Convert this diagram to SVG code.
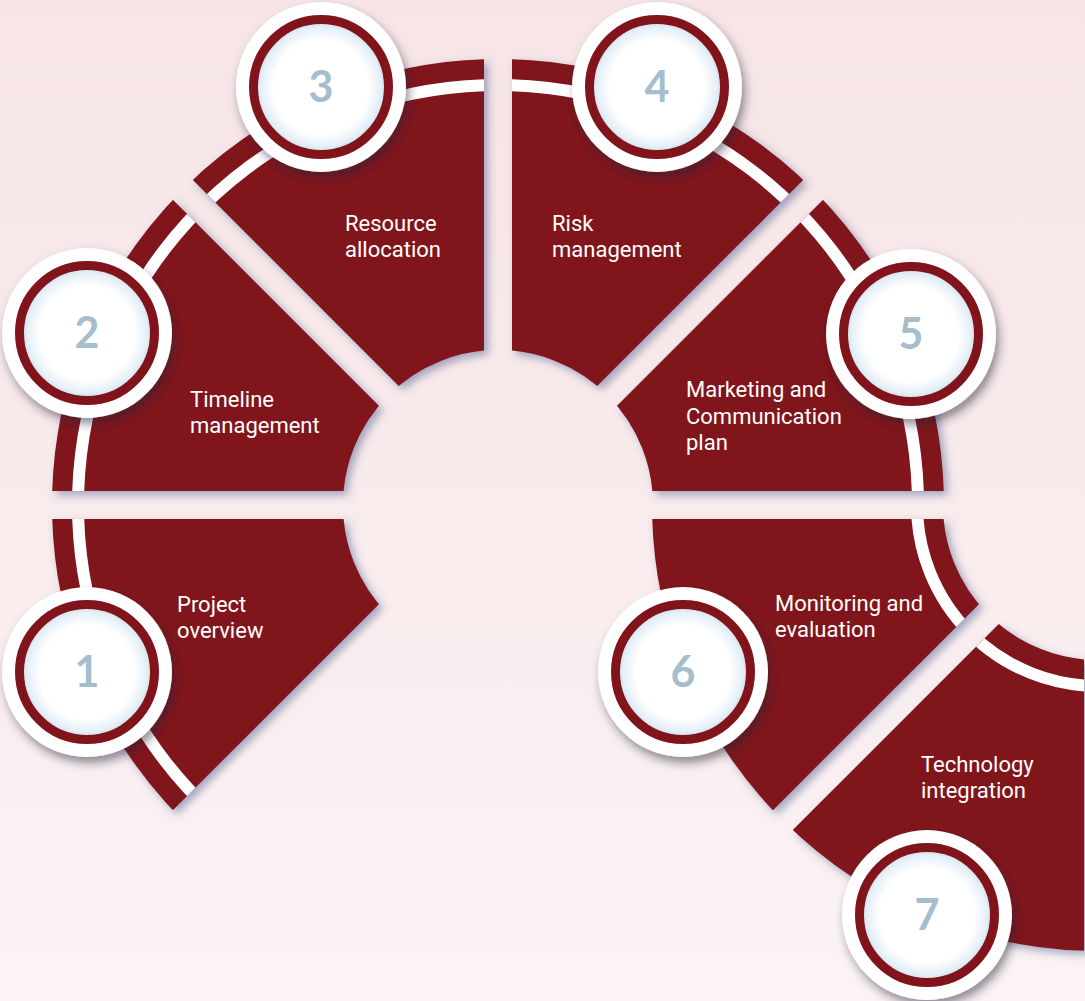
<svg xmlns="http://www.w3.org/2000/svg" width="1085" height="1001" viewBox="0 0 1085 1001">
<defs>
<linearGradient id="bg" x1="0" y1="0" x2="0" y2="1">
<stop offset="0" stop-color="#f6e4e6"/>
<stop offset="1" stop-color="#fbf3f4"/>
</linearGradient>
<radialGradient id="disc" cx="0.5" cy="0.5" r="0.5">
<stop offset="0" stop-color="#ffffff"/>
<stop offset="0.7" stop-color="#ffffff"/>
<stop offset="0.88" stop-color="#e6f0f8"/>
<stop offset="1" stop-color="#c4d8e7"/>
</radialGradient>
<filter id="secShadow" filterUnits="userSpaceOnUse" x="-100" y="-100" width="1300" height="1250">
<feDropShadow dx="4" dy="4" stdDeviation="4" flood-color="#4b5a8c" flood-opacity="0.5"/>
</filter>
<filter id="badgeShadow" x="-30%" y="-30%" width="160%" height="160%">
<feDropShadow dx="3" dy="6" stdDeviation="5" flood-color="#2b2035" flood-opacity="0.5"/>
</filter>
<clipPath id="w1"><polygon points="464.2,519 -62,519 92.1,891.1"/></clipPath>
<clipPath id="w2"><polygon points="464.2,491 -62,491 92.1,118.9"/></clipPath>
<clipPath id="w3"><polygon points="484,471.2 111.9,99.1 484,-55"/></clipPath>
<clipPath id="w4"><polygon points="512,471.2 884.1,99.1 512,-55"/></clipPath>
<clipPath id="w5"><polygon points="531.8,491 1058,491 903.9,118.9"/></clipPath>
<clipPath id="w6"><polygon points="1064.2,519 538,519 692.1,891.1"/></clipPath>
<clipPath id="w7"><polygon points="1084,538.8 711.9,910.9 1084,1065"/></clipPath>
<style>
.band{fill:none;stroke:#80141a;stroke-width:291}
.stripe{fill:none;stroke:#ffffff;stroke-width:12}
.lbl{font-family:Roboto,"Liberation Sans",sans-serif;font-size:22px;font-weight:400;fill:#ffffff}
.num{font-family:Lato,"Liberation Sans",sans-serif;font-size:43px;font-weight:700;fill:#a5bdcd;text-anchor:middle}
.outer{fill:#ffffff}
.ring{fill:url(#disc);stroke:#80141a;stroke-width:9}
</style>
</defs>
<rect x="0" y="0" width="1085" height="1001" fill="url(#bg)"/>
<g id="connectors"/>

<g id="node1">
<g filter="url(#secShadow)"><g clip-path="url(#w1)">
<circle class="band" cx="498" cy="505" r="300.5"/><circle class="stripe" cx="498" cy="505" r="420"/>
</g></g>
<text class="lbl" x="177" y="612">Project</text>
<text class="lbl" x="177" y="638">overview</text>
<g filter="url(#badgeShadow)"><circle class="outer" cx="87" cy="672" r="85"/></g>
<circle class="ring" cx="87" cy="672" r="67.5"/>
<text class="num" x="87" y="687">1</text>
</g>

<g id="node2">
<g filter="url(#secShadow)"><g clip-path="url(#w2)">
<circle class="band" cx="498" cy="505" r="300.5"/><circle class="stripe" cx="498" cy="505" r="420"/>
</g></g>
<text class="lbl" x="190" y="407">Timeline</text>
<text class="lbl" x="190" y="433">management</text>
<g filter="url(#badgeShadow)"><circle class="outer" cx="87" cy="333" r="85"/></g>
<circle class="ring" cx="87" cy="333" r="67.5"/>
<text class="num" x="87" y="348">2</text>
</g>

<g id="node3">
<g filter="url(#secShadow)"><g clip-path="url(#w3)">
<circle class="band" cx="498" cy="505" r="300.5"/><circle class="stripe" cx="498" cy="505" r="420"/>
</g></g>
<text class="lbl" x="345" y="231">Resource</text>
<text class="lbl" x="345" y="257">allocation</text>
<g filter="url(#badgeShadow)"><circle class="outer" cx="321" cy="87" r="85"/></g>
<circle class="ring" cx="321" cy="87" r="67.5"/>
<text class="num" x="321" y="102">3</text>
</g>

<g id="node4">
<g filter="url(#secShadow)"><g clip-path="url(#w4)">
<circle class="band" cx="498" cy="505" r="300.5"/><circle class="stripe" cx="498" cy="505" r="420"/>
</g></g>
<text class="lbl" x="552" y="231">Risk</text>
<text class="lbl" x="552" y="257">management</text>
<g filter="url(#badgeShadow)"><circle class="outer" cx="657" cy="87" r="85"/></g>
<circle class="ring" cx="657" cy="87" r="67.5"/>
<text class="num" x="657" y="102">4</text>
</g>

<g id="node5">
<g filter="url(#secShadow)"><g clip-path="url(#w5)">
<circle class="band" cx="498" cy="505" r="300.5"/><circle class="stripe" cx="498" cy="505" r="420"/>
</g></g>
<text class="lbl" x="686" y="397">Marketing and</text>
<text class="lbl" x="686" y="423.5">Communication</text>
<text class="lbl" x="686" y="450">plan</text>
<g filter="url(#badgeShadow)"><circle class="outer" cx="911" cy="334" r="85"/></g>
<circle class="ring" cx="911" cy="334" r="67.5"/>
<text class="num" x="911" y="349">5</text>
</g>

<g id="node6">
<g filter="url(#secShadow)"><g clip-path="url(#w6)">
<circle class="band" cx="1098" cy="505" r="300.5"/><circle class="stripe" cx="1098" cy="505" r="181"/>
</g></g>
<text class="lbl" x="775" y="611">Monitoring and</text>
<text class="lbl" x="775" y="637">evaluation</text>
<g filter="url(#badgeShadow)"><circle class="outer" cx="683" cy="672" r="85"/></g>
<circle class="ring" cx="683" cy="672" r="67.5"/>
<text class="num" x="683" y="687">6</text>
</g>

<g id="node7">
<g filter="url(#secShadow)"><g clip-path="url(#w7)">
<circle class="band" cx="1098" cy="505" r="300.5"/><circle class="stripe" cx="1098" cy="505" r="181"/>
</g></g>
<text class="lbl" x="921" y="772">Technology</text>
<text class="lbl" x="921" y="798">integration</text>
<g filter="url(#badgeShadow)"><circle class="outer" cx="927" cy="915" r="85"/></g>
<circle class="ring" cx="927" cy="915" r="67.5"/>
<text class="num" x="927" y="930">7</text>
</g>
</svg>
